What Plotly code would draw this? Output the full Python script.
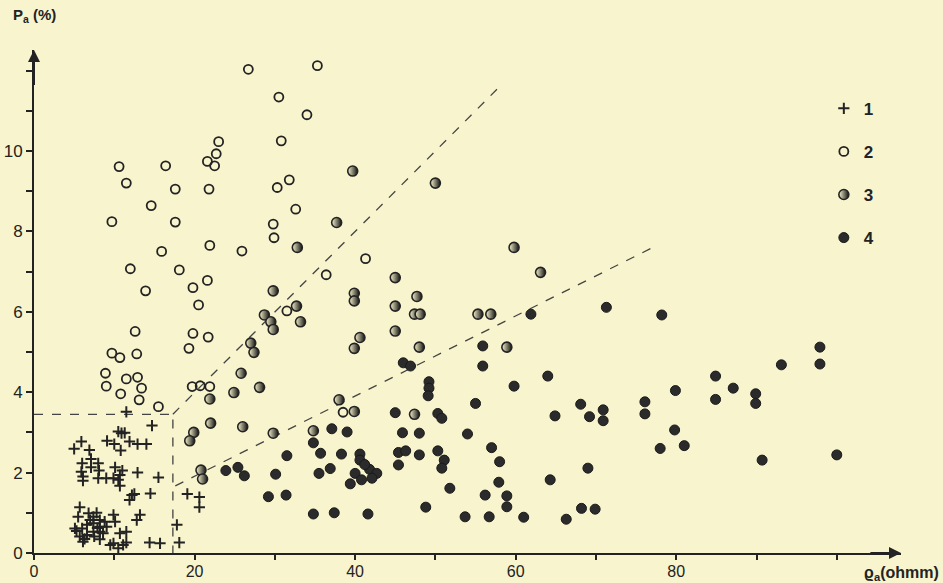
import plotly.graph_objects as go

# ---- data (rho_a in ohmm, P_a in %) ----
s1_x = [5.0, 5.9, 6.9, 6.0, 7.1, 7.1, 5.9, 8.0, 6.1, 6.1, 8.1, 8.0, 9.1, 10.0, 10.8, 10.9, 10.5, 11.3, 11.9, 12.9,
        14.0, 14.7, 10.1, 9.0, 9.9, 10.5, 10.7, 11.0, 10.7, 12.9, 15.5, 14.5, 12.2, 12.5, 11.9, 5.7, 5.5, 6.8, 7.8, 7.4,
        7.0, 6.6, 7.4, 8.2, 8.8, 8.2, 5.1, 6.0, 5.7, 6.6, 6.1, 7.4, 8.2, 8.6, 9.05, 9.9, 10.1, 10.7, 11.5, 7.5,
        8.2, 9.5, 9.9, 10.5, 11.1, 11.5, 12.8, 13.2, 14.4, 15.7, 17.8, 18.1, 19.1, 20.6, 20.6, 11.5, 5.3, 7.9, 6.3]
s1_y = [2.59, 2.77, 2.56, 2.23, 2.34, 2.13, 2.02, 2.23, 1.90, 1.80, 2.05, 1.86, 2.79, 2.71, 2.55, 2.98, 3.02, 2.99, 2.77, 2.71,
        2.71, 3.17, 2.13, 1.86, 1.86, 1.82, 1.94, 2.05, 1.67, 2.00, 1.88, 1.48, 1.44, 1.47, 1.32, 1.14, 0.90, 0.99, 1.00, 0.90,
        0.82, 0.70, 0.74, 0.82, 0.78, 0.65, 0.61, 0.61, 0.41, 0.45, 0.28, 0.53, 0.53, 0.49, 0.65, 0.95, 0.78, 0.49, 0.53, 0.41,
        0.34, 0.20, 0.24, 0.12, 0.20, 0.26, 0.82, 0.95, 0.26, 0.24, 0.70, 0.26, 1.47, 1.39, 1.14, 3.51, 0.55, 0.62, 0.35]

s2_x = [26.7, 35.3, 30.5, 34.0, 30.8, 23.0, 22.7, 21.6, 22.5, 10.6, 16.4, 11.5, 17.6, 21.8, 30.3, 31.8,
        14.6, 32.6, 9.7, 17.6, 29.8, 29.9, 21.9, 25.9, 15.9, 12.0, 18.1, 13.9, 21.6, 19.8, 20.5, 31.5, 12.6, 19.8,
        21.7, 19.3, 9.7, 10.7, 12.8, 8.9, 11.5, 12.9, 9.0, 13.4, 10.8, 13.1, 15.5, 19.7, 20.7, 21.9, 41.3, 36.4, 38.5]
s2_y = [12.03, 12.12, 11.34, 10.90, 10.25, 10.23, 9.93, 9.74, 9.63, 9.61, 9.63, 9.20, 9.05, 9.05, 9.09, 9.28,
        8.64, 8.55, 8.24, 8.23, 8.18, 7.84, 7.65, 7.51, 7.50, 7.07, 7.04, 6.52, 6.78, 6.60, 6.17, 6.02, 5.51, 5.46,
        5.37, 5.09, 4.97, 4.86, 4.95, 4.47, 4.33, 4.37, 4.15, 4.10, 3.96, 3.81, 3.64, 4.14, 4.16, 4.14, 7.32, 6.92, 3.50]

s3_x = [32.8, 29.8, 32.7, 33.2, 28.7, 29.5, 29.8, 27.0, 27.4, 25.8, 21.9, 24.9, 28.1, 39.7, 50.0, 37.7, 45.0, 39.9,
        39.9, 45.0, 45.0, 47.4, 48.1, 47.7, 40.6, 39.9, 48.0, 22.0, 26.0, 19.9, 19.4, 29.8, 38.0, 39.9, 34.8, 20.8,
        21.0, 47.4, 63.1, 55.3, 56.9, 58.9, 59.8]
s3_y = [7.60, 6.52, 6.14, 5.75, 5.92, 5.75, 5.56, 5.22, 4.99, 4.47, 3.83, 3.99, 4.12, 9.50, 9.20, 8.22, 6.85, 6.46,
        6.27, 6.14, 5.52, 5.94, 5.94, 6.38, 5.36, 5.09, 5.12, 3.23, 3.14, 3.00, 2.79, 2.98, 3.81, 3.52, 3.04, 2.06,
        1.84, 3.45, 6.98, 5.94, 5.94, 5.12, 7.60]

s4_x = [46.0, 46.9, 37.1, 39.0, 34.8, 35.7, 38.3, 40.6, 31.5, 23.9, 25.4, 26.2, 30.1, 35.5, 36.9, 40.6, 40.0, 39.4,
        40.8, 41.8, 42.7, 42.1, 41.2, 45.4, 46.3, 45.4, 45.0, 45.9, 48.0, 48.0, 29.2, 31.4, 34.8, 37.4, 41.6,
        61.9, 71.3, 78.2, 55.9, 55.9, 64.0, 59.8, 49.2, 49.2, 49.1, 55.0, 50.3, 50.8, 68.1, 64.9, 69.2, 70.9, 70.9,
        76.1, 76.1, 54.0, 50.3, 51.1, 50.8, 57.0, 58.0, 57.9, 51.8, 56.2, 58.9, 58.9, 69.0, 64.3, 78.0, 48.8, 53.7,
        56.7, 61.0, 66.3, 68.2, 69.9, 97.9, 97.9, 93.1, 84.9, 87.1, 84.9, 79.9, 89.9, 89.9, 79.8, 81.0, 90.7, 100.0]
s4_y = [4.73, 4.65, 3.09, 3.01, 2.74, 2.48, 2.46, 2.46, 2.42, 2.05, 2.13, 1.92, 1.96, 1.98, 2.10, 2.31, 1.98, 1.72,
        1.82, 2.08, 1.98, 1.86, 2.20, 2.50, 2.54, 2.19, 3.49, 2.99, 2.98, 2.44, 1.40, 1.44, 0.97, 1.00, 0.97,
        5.94, 6.11, 5.92, 5.15, 4.65, 4.40, 4.15, 4.26, 4.10, 3.91, 3.72, 3.47, 3.35, 3.70, 3.41, 3.39, 3.56, 3.29,
        3.76, 3.46, 2.96, 2.54, 2.31, 2.11, 2.62, 2.27, 1.76, 1.61, 1.44, 1.42, 1.15, 2.11, 1.82, 2.60, 1.14, 0.90,
        0.90, 0.89, 0.84, 1.11, 1.09, 5.12, 4.70, 4.68, 4.40, 4.10, 3.82, 4.04, 3.96, 3.72, 3.06, 2.67, 2.31, 2.44]

# boundary (dashed) lines
box_x = [0, 17.3, 17.3]
box_y = [3.45, 3.45, 0]
line1_x = [17.3, 58.0]
line1_y = [3.45, 11.6]
line2_x = [17.6, 77.7]
line2_y = [1.67, 7.66]

x_tickvals = [0, 20, 40, 60, 80]
y_tickvals = [0, 2, 4, 6, 8, 10]

INK = "#232323"
PAPER = "#f8f4cd"
FONT = "Liberation Sans"

fig = go.Figure()

for xs, ys in [(box_x, box_y), (line1_x, line1_y), (line2_x, line2_y)]:
    fig.add_trace(go.Scatter(x=xs, y=ys, mode="lines", showlegend=False, hoverinfo="skip",
                             line=dict(color="#444", width=1.3, dash="dash")))

fig.add_trace(go.Scatter(x=s1_x, y=s1_y, mode="markers", name="<b>1</b>", legendgroup="g1",
                         marker=dict(symbol="cross-thin-open", size=8, color=INK,
                                     line=dict(color=INK, width=2))))
fig.add_trace(go.Scatter(x=s2_x, y=s2_y, mode="markers", name="<b>2</b>", legendgroup="g2",
                         marker=dict(symbol="circle-open", size=9, color=INK,
                                     line=dict(color=INK, width=1.8))))
fig.add_trace(go.Scatter(x=s3_x, y=s3_y, mode="markers", name="<b>3</b>", legendgroup="g3",
                         marker=dict(symbol="circle", size=10, color=PAPER,
                                     gradient=dict(type="horizontal", color="#111"),
                                     line=dict(color=INK, width=1.6))))
fig.add_trace(go.Scatter(x=s4_x, y=s4_y, mode="markers", name="<b>4</b>", legendgroup="g4",
                         marker=dict(symbol="circle", size=10, color="#2b2b2b",
                                     line=dict(color="#1a1a1a", width=1))))

fig.update_layout(
    width=943, height=583,
    paper_bgcolor=PAPER, plot_bgcolor=PAPER,
    margin=dict(l=34, r=42, t=50, b=30, autoexpand=False),
    font=dict(family=FONT, size=16, color=INK),
    legend=dict(x=0.911, y=0.919, xanchor="left", yanchor="top", bgcolor="rgba(0,0,0,0)",
                tracegroupgap=18, font=dict(size=17, color=INK), itemwidth=30),
    xaxis=dict(range=[0, 108], automargin=False, showgrid=False, zeroline=False, showline=True,
               linecolor=INK, linewidth=2,
               tickmode="array", tickvals=x_tickvals, ticks="outside", ticklen=5, tickwidth=1.5, tickcolor=INK,
               minor=dict(dtick=10, tick0=0, ticks="outside", ticklen=5, tickwidth=1.5, tickcolor=INK),
               tickfont=dict(size=16), ticklabelstandoff=-2),
    yaxis=dict(range=[0, 12.51], automargin=False, showgrid=False, zeroline=False, showline=True,
               linecolor=INK, linewidth=2,
               tickmode="array", tickvals=y_tickvals, ticks="outside", ticklen=6, tickwidth=1.5, tickcolor=INK,
               minor=dict(dtick=1, tick0=0, ticks="outside", ticklen=6, tickwidth=1.5, tickcolor=INK),
               tickfont=dict(size=17)),
    annotations=[
        dict(x=0, y=12.51, ax=0, ay=11.6, xref="x", yref="y", axref="x", ayref="y", showarrow=True,
             arrowhead=2, arrowsize=1.2, arrowwidth=2, arrowcolor=INK, text=""),
        dict(x=108, y=0, ax=104, ay=0, xref="x", yref="y", axref="x", ayref="y", showarrow=True,
             arrowhead=2, arrowsize=1.2, arrowwidth=2, arrowcolor=INK, text=""),
        dict(x=-0.027, y=1.045, xref="paper", yref="paper", xanchor="left", yanchor="bottom", showarrow=False,
             text="<b>P<sub>a</sub> (%)</b>", font=dict(size=15, color=INK)),
        dict(x=1.046, y=-0.018, xref="paper", yref="paper", xanchor="right", yanchor="top", showarrow=False,
             text="<b>ϱ<sub>a</sub>(ohmm)</b>", font=dict(size=16, color=INK)),
    ],
)

fig.write_html("out.html", config={"displayModeBar": False},
               post_script="document.body.style.margin='0';document.body.style.background='" + PAPER + "';")
